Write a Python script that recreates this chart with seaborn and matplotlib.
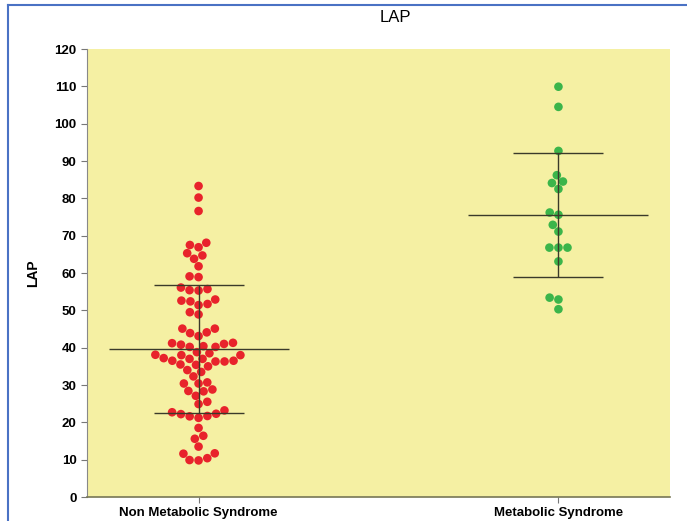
import numpy as np
import pandas as pd
import matplotlib
matplotlib.use("Agg")
import matplotlib.pyplot as plt
import seaborn as sns
from matplotlib.lines import Line2D

# LAP values, per group
groups = ["Non Metabolic Syndrome", "Metabolic Syndrome"]
non_ms = [
    83.3, 80.2, 76.6, 68.1, 66.9, 67.5, 64.7, 63.8, 65.3, 61.8,
    58.9, 59.1, 55.4, 55.7, 55.3, 56.1, 52.4, 52.6, 51.7, 51.4,
    52.9, 48.9, 49.5, 45.1, 44.1, 43.9, 45.1, 43.1, 41.3, 40.2,
    41.0, 41.2, 40.8, 40.4, 40.2, 38.8, 37.2, 37.0, 36.3, 38.1,
    35.4, 36.5, 38.0, 36.3, 38.5, 35.0, 36.5, 37.0, 38.0, 35.5,
    33.5, 32.3, 34.0, 30.7, 30.4, 30.4, 28.3, 28.4, 27.1, 28.8,
    25.5, 24.9, 23.2, 22.3, 21.7, 21.2, 22.7, 21.6, 22.2, 18.5,
    16.4, 15.6, 13.5, 11.7, 11.6, 10.4, 9.9, 9.8,
]
ms = [
    109.9, 104.5, 92.7, 86.2, 84.5, 84.1, 82.5, 75.6, 76.2, 72.9,
    71.1, 66.8, 66.8, 66.8, 63.1, 52.9, 53.4, 50.3,
]
colors = ["#E8232B", "#3BB54A"]

df = pd.DataFrame({
    "group": [groups[0]] * len(non_ms) + [groups[1]] * len(ms),
    "LAP": non_ms + ms,
})

plt.rcParams["font.family"] = ["Liberation Sans", "DejaVu Sans"]

fig = plt.figure(figsize=(6.87, 5.21), dpi=100)
ax = fig.add_axes([87 / 687, 24 / 521, 583 / 687, 448 / 521])
ax.set_facecolor("#F5F0A3")

sns.swarmplot(data=df, x="group", y="LAP", hue="group", palette=colors,
              order=groups, size=6.2, legend=False, ax=ax)

# mean +/- SD lines
for i, vals in enumerate([non_ms, ms]):
    m = np.mean(vals)
    sd = np.std(vals, ddof=1)
    ax.hlines(m, i - 0.25, i + 0.25, color="#3a3a2a", lw=1, zorder=5)
    ax.hlines([m - sd, m + sd], i - 0.125, i + 0.125, color="#3a3a2a", lw=1, zorder=5)
    ax.vlines(i, m - sd, m + sd, color="#3a3a2a", lw=1, zorder=5)

ax.set_xlim(-0.31, 1.31)
ax.set_ylim(0, 120)
ax.set_yticks(range(0, 121, 10))
ax.set_xlabel("")
ax.set_ylabel("LAP", fontsize=10, fontweight="bold", labelpad=10)
ax.tick_params(axis="both", length=4, color="#777777", width=0.8)
for lab in ax.get_yticklabels() + ax.get_xticklabels():
    lab.set_fontweight("bold")
    lab.set_fontsize(9.5)
ax.tick_params(axis="x", pad=3)

for s in ["top", "right"]:
    ax.spines[s].set_visible(False)
ax.spines["left"].set_color("#888888")
ax.spines["bottom"].set_color("#777755")
ax.spines["bottom"].set_linewidth(1.2)

fig.text(395 / 687, 1 - 18 / 521, "LAP", ha="center", va="center", fontsize=12)

# blue frame at the left and top of the figure
fig.add_artist(Line2D([8 / 687, 8 / 687], [0, 1 - 5 / 521], color="#4A72C4", lw=1.5,
                      transform=fig.transFigure))
fig.add_artist(Line2D([8 / 687, 1], [1 - 5 / 521, 1 - 5 / 521], color="#4A72C4", lw=1.5,
                      transform=fig.transFigure))

fig.savefig("out.png", dpi=100)
